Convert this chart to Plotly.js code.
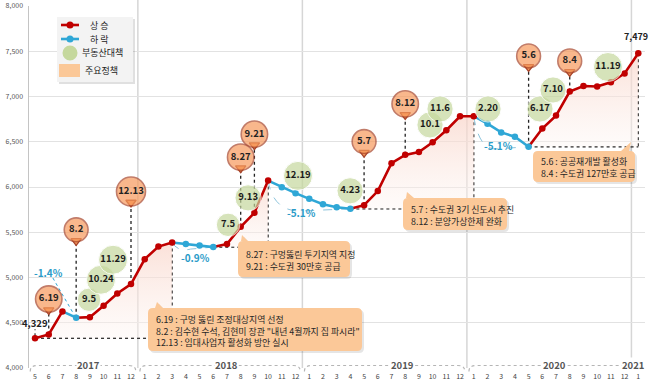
<!DOCTYPE html>
<html><head><meta charset="utf-8">
<script src="https://cdn.plot.ly/plotly-3.0.1.min.js"></script>
<style>html,body{margin:0;padding:0;background:#fff}#chart{width:650px;height:382px}</style>
</head><body><div id="chart"></div>
<script>
// ---------------- data ----------------
const months = ['5','6','7','8','9','10','11','12',
  '1','2','3','4','5','6','7','8','9','10','11','12',
  '1','2','3','4','5','6','7','8','9','10','11','12',
  '1','2','3','4','5','6','7','8','9','10','11','12',
  '1'];
const values = [4329,4371,4625,4556,4562,4688,4824,4927,
  5203,5342,5387,5369,5354,5336,5369,5560,5715,6071,5998,5932,
  5869,5810,5777,5759,5799,5955,6263,6355,6387,6495,6627,6782,
  6782,6700,6603,6555,6445,6646,6789,7055,7116,7110,7157,7255,
  7479];
const years = ['2017','2018','2019','2020','2021'];
const yearStart = [0,8,20,32,44];
const yearEnd = [7,19,31,43,44];
const yearLabelIdx = [3.9,14.0,26.8,37.9,43.6];
const yTicks = [4000,4500,5000,5500,6000,6500,7000,7500,8000];

const riseStart = [0,13,23,36];
const riseEnd = [10,17,32,44];
const fallStart = [2,10,17,32];
const fallEnd = [3,13,23,36];
const fallPct = ['-1.4%','-0.9%','-5.1%','-5.1%'];
const fallLabelX = [0.95,11.67,19.47,33.77];
const fallLabelY = [5050,5218,5715,6455];

const policyDates = ['6.19','8.2','12.13','8.27','9.21','5.7','8.12','5.6','8.4'];
const policyIdx = [1,3,7,15,16,24,27,36,39];
const policyLabelY = [4762,5527,5950,6330,6584,6502,6918,7448,7393];

const measureDates = ['9.5','10.24','11.29','7.5','9.13','12.19','4.23','10.1','11.6','2.20','6.17','7.10','11.19'];
const measureX = [3.94,4.81,5.69,14.08,15.54,19.18,22.98,28.81,29.54,33.04,36.83,37.78,41.79];
const measureY = [4754,4975,5196,5582,5880,6123,5958,6686,6862,6862,6862,7072,7326];

const calloutTexts = [
  ['6.19 : 구멍 뚫린 조정대상지역 선정','8.2 : 김수현 수석, 김현미 장관 "내년 4월까지 집 파시라"','12.13 : 임대사업자 활성화 방안 실시'],
  ['8.27 : 구멍뚫린 투기지역 지정','9.21 : 수도권 30만호 공급'],
  ['5.7 : 수도권 3기 신도시 추진','8.12 : 분양가상한제 완화'],
  ['5.6 : 공공재개발 활성화','8.4 : 수도권 127만호 공급']
];
const legendLabels = ['상 승','하 락','부동산대책','주요정책'];

// ---------------- layout geometry ----------------
const FONT = "'Noto Sans CJK KR', 'Noto Sans', sans-serif";
const L=29, R=5, T=6, B=14, FW=650, FH=382;
const W=FW-L-R, H=FH-T-B;
const XR=[-0.44,44.49], YR=[4000,8000];
const vpp=(YR[1]-YR[0])/H;           // value per pixel
const PX=p=>(p-L)/W, PY=p=>(FH-B-p)/H;   // pixel -> paper

const RED='#c00000', BLUE='#2fa7d6', ORANGE='#f79a5c', ORANGE_LINE='#a8452b', GREEN='#c5d89d', PEACH='#fbc898';

const traces=[];
riseStart.forEach((s,k)=>{
  const e=riseEnd[k], xs=[], ys=[];
  for(let i=s;i<=e;i++){xs.push(i);ys.push(values[i]);}
  xs.push(e,s); ys.push(values[s],values[s]);
  traces.push({x:xs,y:ys,type:'scatter',mode:'none',fill:'toself',
    fillcolor:'rgba(250,222,214,0.55)',
    fillgradient:{type:'vertical',colorscale:[[0,'rgba(253,245,242,0.4)'],[1,'rgba(249,212,200,0.7)']]},
    hoverinfo:'skip',showlegend:false});
});
const isFall = values.map((_,i)=>fallStart.some((s,k)=>i>s && i<=fallEnd[k]));
const redSegs=[]; let cur=0;
fallStart.forEach((s,k)=>{redSegs.push([cur,s]); cur=fallEnd[k];});
redSegs.push([cur,values.length-1]);
redSegs.forEach(([a,b])=>{
  const xs=[],ys=[]; for(let i=a;i<=b;i++){xs.push(i);ys.push(values[i]);}
  traces.push({x:xs,y:ys,type:'scatter',mode:'lines',line:{color:RED,width:2.6},hoverinfo:'skip',showlegend:false});
});
fallStart.forEach((s,k)=>{
  const xs=[],ys=[]; for(let i=s;i<=fallEnd[k];i++){xs.push(i);ys.push(values[i]);}
  traces.push({x:xs,y:ys,type:'scatter',mode:'lines',line:{color:BLUE,width:2.6},hoverinfo:'skip',showlegend:false});
});
traces.push({x:values.map((_,i)=>i),y:values,type:'scatter',mode:'markers',
  marker:{size:6.5,color:isFall.map(f=>f?BLUE:RED)},hoverinfo:'skip',showlegend:false});

traces.push({x:policyIdx,y:policyLabelY.map(v=>v-11*vpp),type:'scatter',mode:'markers',
  marker:{symbol:'triangle-down',size:9,color:ORANGE,line:{color:ORANGE_LINE,width:1.3}},hoverinfo:'skip',showlegend:false});
traces.push({x:policyIdx,y:policyLabelY,type:'scatter',mode:'markers+text',
  text:policyDates.map(d=>'<b>'+d+'</b>'),textposition:'middle center',
  textfont:{family:FONT,size:9.5,color:'#222'},
  marker:{symbol:'circle',size:policyDates.map(d=>16+d.length*2.6),color:ORANGE,line:{color:ORANGE_LINE,width:1.6}},
  hoverinfo:'skip',showlegend:false});
traces.push({x:measureX,y:measureY,type:'scatter',mode:'markers+text',
  text:measureDates.map(d=>'<b>'+d+'</b>'),textposition:'middle center',
  textfont:{family:FONT,size:9.5,color:'#1a1a1a'},
  marker:{symbol:'circle',size:measureDates.map(d=>15+d.length*2.8),color:GREEN},
  hoverinfo:'skip',showlegend:false});

// ---------------- shapes ----------------
const shapes=[];
yearStart.slice(1).forEach(s=>shapes.push({type:'line',xref:'x',yref:'paper',x0:s-0.5,x1:s-0.5,y0:0,y1:1+T/H,
  line:{color:'#d6d6d6',width:1.5},layer:'below'}));
const DOT={color:'#222',width:1.3,dash:'dot'};
riseStart.forEach((s,k)=>{
  const e=riseEnd[k];
  shapes.push({type:'line',xref:'x',yref:'y',x0:s,x1:e,y0:values[s],y1:values[s],line:DOT,layer:'between'});
  shapes.push({type:'line',xref:'x',yref:'y',x0:e,x1:e,y0:values[e],y1:values[s],line:DOT,layer:'between'});
});
policyIdx.forEach((ix,k)=>shapes.push({type:'line',xref:'x',yref:'y',x0:ix,x1:ix,y0:values[ix],y1:policyLabelY[k]-12*vpp,line:DOT,layer:'between'}));
shapes.push({type:'line',xref:'x',yref:'y',x0:0,x1:0,y0:values[0]+2*vpp,y1:values[0]+9*vpp,line:{color:'#222',width:1.1,dash:'dot'},layer:'between'});
fallStart.forEach((s,k)=>{
  const e=fallEnd[k];
  if(k===0){
    shapes.push({type:'line',xref:'x',yref:'y',x0:fallLabelX[k]+0.35,y0:fallLabelY[k]-5*vpp,x1:e-0.15,y1:values[e]+3*vpp,
      line:{color:BLUE,width:1,dash:'dot'},layer:'between'});
  } else {
    const ys=values[s], ye=values[e];
    shapes.push({type:'path',xref:'x',yref:'y',
      path:`M ${s},${ys} Q ${s+0.4},${ye-5*vpp} ${s+(e-s)*0.45},${ye-2*vpp} L ${e},${ye}`,
      line:{color:'#8cc4dc',width:1,dash:'dash'},layer:'between'});
  }
});
const yt=PY(365.5), yb=PY(371.5);
yearStart.forEach((s,k)=>{
  const e=yearEnd[k];
  let p;
  if(s===e){ p=`M ${s-0.55},${yb} Q ${s-0.55},${yt} ${s-0.2},${yt} L ${s+0.4},${yt}`; }
  else { const a=s-0.35,b=e+0.35; p=`M ${a},${yb} Q ${a},${yt} ${a+0.5},${yt} L ${b-0.5},${yt} Q ${b},${yt} ${b},${yb}`; }
  shapes.push({type:'path',xref:'x',yref:'paper',path:p,line:{color:'#b5b5b5',width:1.2,dash:'dot'},layer:'above'});
});

const calloutBoxes=[[148,308,362,351],[238,241,350,277],[403,198,507,230],[533,151,635,182]];
const calloutTails=[[155,163,157,302],[241,248,242,235],[406,414,407,192],[621,629,631,142]];
function boxPath(b,t,dx,dy){
  const [x0,y0,x1,y1]=b.map((v,i)=>v+(i%2?dy:dx)); const r=5;
  const P=(x,y)=>`${PX(x)},${PY(y)}`;
  return `M ${P(x0+r,y0)} L ${P(t[0]+dx,y0)} L ${P(t[2]+dx,t[3]+dy)} L ${P(t[1]+dx,y0)} L ${P(x1-r,y0)} Q ${P(x1,y0)} ${P(x1,y0+r)} `+
    `L ${P(x1,y1-r)} Q ${P(x1,y1)} ${P(x1-r,y1)} L ${P(x0+r,y1)} Q ${P(x0,y1)} ${P(x0,y1-r)} L ${P(x0,y0+r)} Q ${P(x0,y0)} ${P(x0+r,y0)} Z`;
}
calloutBoxes.forEach((b,k)=>{
  shapes.push({type:'path',xref:'paper',yref:'paper',path:boxPath(b,calloutTails[k],2,2),fillcolor:'rgba(0,0,0,0.10)',line:{width:0},layer:'above'});
  shapes.push({type:'path',xref:'paper',yref:'paper',path:boxPath(b,calloutTails[k],0,0),fillcolor:PEACH,line:{width:0},layer:'above'});
});

const LB=[57,17,133,82];
shapes.push({type:'rect',xref:'paper',yref:'paper',x0:PX(LB[0]+2),x1:PX(LB[2]+2),y0:PY(LB[3]+2),y1:PY(LB[1]+2),fillcolor:'rgba(0,0,0,0.12)',line:{width:0},layer:'above'});
shapes.push({type:'rect',xref:'paper',yref:'paper',x0:PX(LB[0]),x1:PX(LB[2]),y0:PY(LB[3]),y1:PY(LB[1]),fillcolor:'#f3f3f3',line:{width:0},layer:'above'});
[[25,RED],[39,BLUE]].forEach(([y,c])=>{
  shapes.push({type:'line',xref:'paper',yref:'paper',x0:PX(61),x1:PX(79),y0:PY(y),y1:PY(y),line:{color:c,width:2.6},layer:'above'});
  shapes.push({type:'circle',xref:'paper',yref:'paper',x0:PX(66.5),x1:PX(73.5),y0:PY(y+3.5),y1:PY(y-3.5),fillcolor:c,line:{width:0},layer:'above'});
});
shapes.push({type:'circle',xref:'paper',yref:'paper',x0:PX(62.5),x1:PX(77.5),y0:PY(60.5),y1:PY(45.5),fillcolor:GREEN,line:{width:0},layer:'above'});
shapes.push({type:'rect',xref:'paper',yref:'paper',x0:PX(59),x1:PX(80),y0:PY(77),y1:PY(64),fillcolor:PEACH,line:{width:0},layer:'above'});

// ---------------- annotations ----------------
const ann=[];
calloutTexts.forEach((lines,k)=>{
  const b=calloutBoxes[k];
  ann.push({xref:'paper',yref:'paper',x:PX(b[0]+6),y:PY((b[1]+b[3])/2+1),xanchor:'left',yanchor:'middle',align:'left',
    showarrow:false,text:lines.join('<br>'),font:{family:FONT,size:8.9,color:'#262626'}});
});
fallPct.forEach((t,k)=>ann.push({x:fallLabelX[k],y:fallLabelY[k],xref:'x',yref:'y',showarrow:false,xanchor:'center',yanchor:'middle',
  text:'<b>'+t+'</b>',font:{family:FONT,size:10,color:'#2a9bc8'}}));
ann.push({x:0,y:values[0]+15.5*vpp,xref:'x',yref:'y',showarrow:false,xanchor:'center',yanchor:'middle',text:'<b>4,329</b>',font:{family:FONT,size:9.5,color:'#222'}});
ann.push({x:values.length-1-0.2,y:values[values.length-1]+17*vpp,xref:'x',yref:'y',showarrow:false,xanchor:'center',yanchor:'middle',text:'<b>7,479</b>',font:{family:FONT,size:9,color:'#222'}});
years.forEach((y,k)=>ann.push({x:yearLabelIdx[k],y:PY(365),xref:'x',yref:'paper',showarrow:false,xanchor:'center',yanchor:'middle',
  text:'<b>'+y+'</b>',bgcolor:'#fff',borderpad:0,font:{family:FONT,size:9.5,color:'#555'}}));
const legY=[25,39,53,70], legX=[99,99,102,101];
legendLabels.forEach((t,k)=>ann.push({xref:'paper',yref:'paper',x:PX(legX[k]),y:PY(legY[k]),showarrow:false,xanchor:'center',yanchor:'middle',
  text:t,font:{family:FONT,size:9,color:'#222'}}));

const layout={
  width:FW,height:FH,margin:{l:L,r:R,t:T,b:B,pad:0},
  paper_bgcolor:'#fff',plot_bgcolor:'#fff',showlegend:false,
  xaxis:{range:XR,tickvals:months.map((_,i)=>i),ticktext:months,showgrid:false,zeroline:false,showline:false,
    ticks:'',tickangle:0,ticklabelstandoff:3,tickfont:{family:FONT,size:7,color:'#444'},fixedrange:true},
  yaxis:{range:YR,tickvals:yTicks,ticktext:yTicks.map(v=>v.toLocaleString('en-US')),showgrid:true,gridcolor:'#e2e2e2',gridwidth:1,
    zeroline:false,showline:true,linecolor:'#c4c4c4',linewidth:1.5,ticks:'',ticklabelstandoff:3,
    tickfont:{family:FONT,size:7,color:'#555'},fixedrange:true},
  shapes:shapes,annotations:ann
};
Plotly.newPlot('chart',traces,layout,{staticPlot:true,displayModeBar:false});
</script></body></html>
